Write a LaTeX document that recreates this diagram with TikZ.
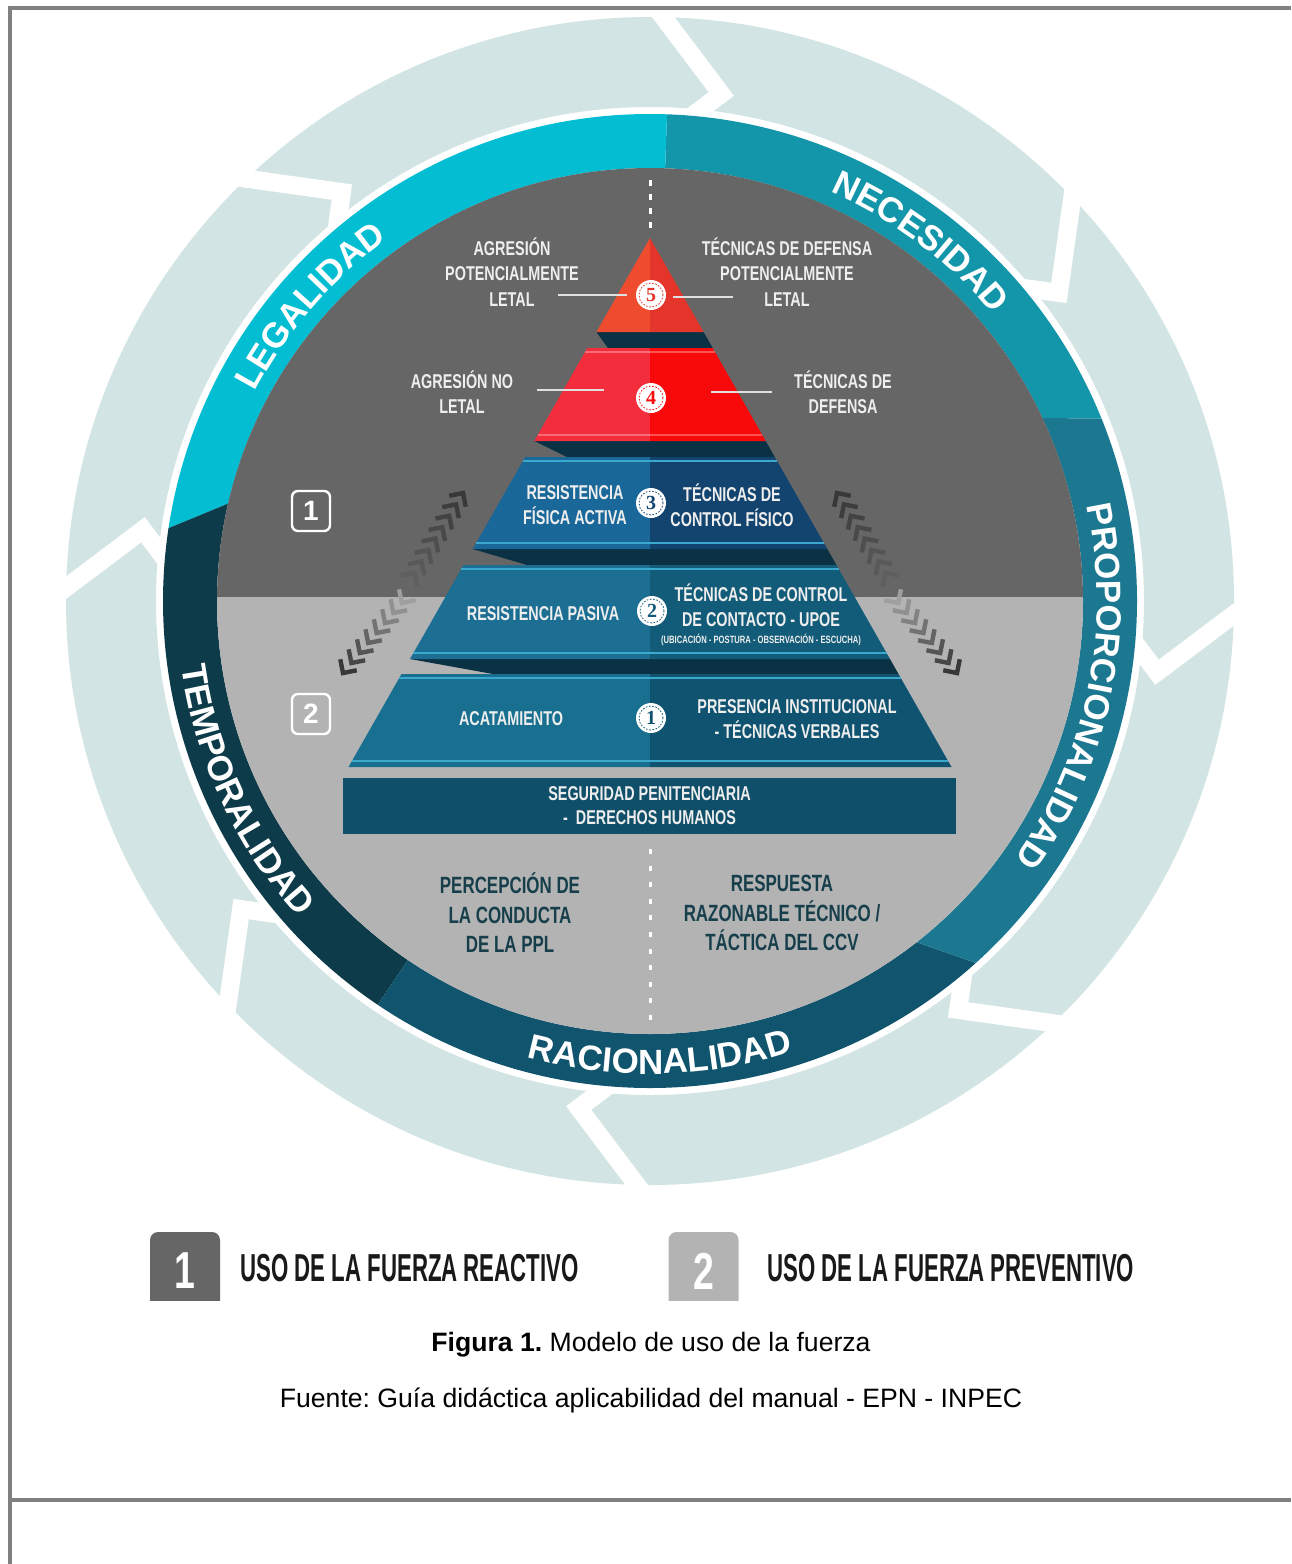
\documentclass[tikz,border=0pt]{standalone}
\usepackage{fontspec}
\setmainfont{Liberation Sans}
\newfontfamily\cnd[FakeStretch=0.72]{Liberation Sans}
\newfontfamily\cndl[FakeStretch=0.57]{Liberation Sans}
\newfontfamily\serf{Liberation Serif}
\usetikzlibrary{calc,decorations.text}
\frenchspacing
\definecolor{framec}{HTML}{808080}
\definecolor{lightring}{HTML}{D3E4E4}
\definecolor{legal}{HTML}{03BED3}
\definecolor{neces}{HTML}{1496AA}
\definecolor{propor}{HTML}{1B7890}
\definecolor{racio}{HTML}{10546E}
\definecolor{tempo}{HTML}{0E3B49}
\definecolor{darkg}{HTML}{666666}
\definecolor{lightg}{HTML}{B3B3B3}
\definecolor{tfivel}{HTML}{EF4B2E}
\definecolor{tfiver}{HTML}{E3352A}
\definecolor{tfourl}{HTML}{F42D3D}
\definecolor{tfourr}{HTML}{F80A0B}
\definecolor{tthreel}{HTML}{1A6899}
\definecolor{tthreer}{HTML}{13446F}
\definecolor{ttwol}{HTML}{1C6E92}
\definecolor{ttwor}{HTML}{125C79}
\definecolor{tonel}{HTML}{186F8F}
\definecolor{toner}{HTML}{0F5371}
\definecolor{basec}{HTML}{0F4F69}
\definecolor{shad}{HTML}{0B3145}
\definecolor{stripe}{HTML}{3BA9CD}
\definecolor{bottxt}{HTML}{173F4B}
\definecolor{chevd}{HTML}{383838}
\definecolor{lblc}{HTML}{EEEEEE}
\newcommand\ringfont{\bfseries\fontsize{17.5}{20}\selectfont}
\tikzset{
  lbl/.style={text=lblc, font=\cnd\bfseries\fontsize{10}{12.75}\selectfont, align=center, inner sep=0pt},
  bottlbl/.style={text=bottxt, font=\cnd\bfseries\fontsize{11.75}{14.75}\selectfont, align=center, inner sep=0pt},
  badge/.style={circle, fill=white, minimum size=15pt, inner sep=0pt, font=\serf\bfseries\fontsize{10}{10}\selectfont},
  chv/.style={line width=2.2pt, line join=miter},
  ringtext/.style={decorate, decoration={text along path, text align=center, text color=white, text={|\ringfont|#1}}},
  stripeline/.style={stripe, line width=1.1pt},
  conn/.style={white!88!black, line width=1pt},
  diskbadge/.style={draw=white, line width=1.2pt, rounded corners=3pt, minimum width=19pt, minimum height=20pt, inner sep=0pt, text=white, font=\bfseries\fontsize{14}{14}\selectfont},
  legbox/.style={rounded corners=4pt, minimum width=35pt, minimum height=39pt, inner sep=0pt, text=white, font=\cnd\bfseries\fontsize{26}{26}\selectfont},
  legtext/.style={anchor=west, inner sep=0pt, font=\cndl\bfseries\fontsize{19.5}{20}\selectfont, text=black!90}
}
\begin{document}
\begin{tikzpicture}[x=0.5pt,y=0.5pt]
\useasboundingbox (0,0) rectangle (1291,-1564);
\coordinate (C) at (650,-601);

% light outer ring with chevron cuts
\fill[lightring, even odd rule] (C) circle[radius=584] (C) circle[radius=494];
\foreach \a in {37,82,...,352}
  \draw[white, line width=9pt, line join=miter] ($(C)+(\a:512)+({\a+45}:140)$) -- ($(C)+(\a:512)$) -- ($(C)+(\a:512)+({\a+135}:40)$);

% coloured ring
\fill[neces] ($(C)+(22:487)$) arc[start angle=22, end angle=88, radius=487] -- ($(C)+(88:433)$) arc[start angle=88, end angle=25, radius=433] -- cycle;
\fill[legal] ($(C)+(88:487)$) arc[start angle=88, end angle=171.4, radius=487] -- ($(C)+(167:433)$) arc[start angle=167, end angle=88, radius=433] -- cycle;
\fill[tempo] ($(C)+(171.4:487)$) arc[start angle=171.4, end angle=236, radius=487] -- ($(C)+(236:433)$) arc[start angle=236, end angle=167, radius=433] -- cycle;
\fill[racio] ($(C)+(236:487)$) arc[start angle=236, end angle=312, radius=487] -- ($(C)+(308:433)$) arc[start angle=308, end angle=236, radius=433] -- cycle;
\fill[propor] ($(C)+(312:487)$) arc[start angle=312, end angle=382, radius=487] -- ($(C)+(385:433)$) arc[start angle=385, end angle=308, radius=433] -- cycle;

% ring texts
\path[ringtext=LEGALIDAD] ($(C)+(169:447)$) arc[start angle=169, end angle=109, radius=447];
\path[ringtext=NECESIDAD] ($(C)+(83:447)$) arc[start angle=83, end angle=23, radius=447];
\path[ringtext=PROPORCIONALIDAD] ($(C)+(32:447)$) arc[start angle=32, end angle=-55, radius=447];
\path[ringtext=RACIONALIDAD] ($(C)+(236:473)$) arc[start angle=236, end angle=306.6, radius=473];
\path[ringtext=TEMPORALIDAD] ($(C)+(170:473)$) arc[start angle=170, end angle=240, radius=473];

% inner disk
\begin{scope}
\clip (C) circle[radius=433];
\fill[darkg] (200,-150) rectangle (1100,-597);
\fill[lightg] (200,-597) rectangle (1100,-1050);
\end{scope}

% dashed axis
\draw[white, line width=1.5pt, dash pattern=on 3pt off 4pt] (650,-180) -- (650,-230);
\draw[white, line width=1.5pt, dash pattern=on 2.5pt off 5.8pt] (650,-849) -- (650,-1024);

% chevron stacks
\foreach \i in {0,...,7}{
  \pgfmathsetmacro\px{463-6.9*\i}
  \pgfmathsetmacro\py{-493-11.4*\i}
  \pgfmathtruncatemacro\f{100-12*\i}
  \draw[chv, chevd!\f!darkg] ([shift={(191.3:14)}]\px,\py) -- (\px,\py) -- ++(281.3:14);
  \pgfmathsetmacro\qx{837+6.9*\i}
  \draw[chv, chevd!\f!darkg] ([shift={(258.7:14)}]\qx,\py) -- (\qx,\py) -- ++(348.7:14);
  \pgfmathsetmacro\rx{343+8.4*\i}
  \pgfmathsetmacro\ry{-673+10*\i}
  \draw[chv, chevd!\f!lightg] ([shift={(11.3:14)}]\rx,\ry) -- (\rx,\ry) -- ++(101.3:14);
  \pgfmathsetmacro\sx{957-8.4*\i}
  \draw[chv, chevd!\f!lightg] ([shift={(78.7:14)}]\sx,\ry) -- (\sx,\ry) -- ++(168.7:14);
}

% shadows between tiers
\fill[shad] (596.4,-332) -- (703.6,-332) -- (712.7,-348) -- (608,-348) -- cycle;
\fill[shad] (534.3,-441) -- (765.7,-441) -- (774.8,-457) -- (567,-457) -- cycle;
\fill[shad] (472.7,-549) -- (827.3,-549) -- (836.4,-565) -- (527,-565) -- cycle;
\fill[shad] (410,-659) -- (890,-659) -- (898.5,-674) -- (493,-674) -- cycle;

% tier 5
\fill[tfivel] (650,-238) -- (596.4,-332) -- (650,-332) -- cycle;
\fill[tfiver] (650,-238) -- (703.6,-332) -- (650,-332) -- cycle;
% tier 4
\fill[tfourl] (587.3,-348) -- (650,-348) -- (650,-441) -- (534.3,-441) -- cycle;
\fill[tfourr] (650,-348) -- (712.7,-348) -- (765.7,-441) -- (650,-441) -- cycle;
\draw[white, opacity=0.3, line width=1.1pt] (585,-352) -- (715,-352) (537.7,-435) -- (762.3,-435);
% tier 3
\fill[tthreel] (525.2,-457) -- (650,-457) -- (650,-549) -- (472.7,-549) -- cycle;
\fill[tthreer] (650,-457) -- (774.8,-457) -- (827.3,-549) -- (650,-549) -- cycle;
\draw[stripeline] (522.9,-461) -- (777.1,-461) (476.1,-543) -- (823.9,-543);
% tier 2
\fill[ttwol] (463.6,-565) -- (650,-565) -- (650,-659) -- (410,-659) -- cycle;
\fill[ttwor] (650,-565) -- (836.4,-565) -- (890,-659) -- (650,-659) -- cycle;
\draw[stripeline] (461.3,-569) -- (838.7,-569) (413.4,-653) -- (886.6,-653);
% tier 1
\fill[tonel] (401.5,-674) -- (650,-674) -- (650,-767) -- (348.5,-767) -- cycle;
\fill[toner] (650,-674) -- (898.5,-674) -- (951.5,-767) -- (650,-767) -- cycle;
\draw[stripeline] (399.2,-678) -- (900.8,-678) (351.9,-761) -- (948.1,-761);
% base
\node[fill=basec, minimum width=306.5pt, minimum height=28pt, inner sep=0pt, text=lblc, font=\cnd\bfseries\fontsize{10}{12}\selectfont, align=center] (base) at (649.5,-806) {SEGURIDAD PENITENCIARIA\\-\ \ DERECHOS HUMANOS};

% badges
\node[badge, text=tfiver] (n5) at (651,-295) {5};
\node[badge, text=tfourr] (n4) at (651,-398) {4};
\node[badge, text=tthreer] (n3) at (651,-503) {3};
\node[badge, text=ttwor] (n2) at (652,-611) {2};
\node[badge, text=toner] (n1) at (651,-718) {1};
\draw[tfiver, line width=0.4pt, dash pattern=on 0.8pt off 0.8pt] (n5.center) circle[radius=12];
\draw[tfourr, line width=0.4pt, dash pattern=on 0.8pt off 0.8pt] (n4.center) circle[radius=12];
\draw[tthreer, line width=0.4pt, dash pattern=on 0.8pt off 0.8pt] (n3.center) circle[radius=12];
\draw[ttwor, line width=0.4pt, dash pattern=on 0.8pt off 0.8pt] (n2.center) circle[radius=12];
\draw[toner, line width=0.4pt, dash pattern=on 0.8pt off 0.8pt] (n1.center) circle[radius=12];

% labels
\node[lbl] (l5) at (512,-272) {AGRESIÓN\\POTENCIALMENTE\\LETAL};
\node[lbl] (r5) at (787,-272) {TÉCNICAS DE DEFENSA\\POTENCIALMENTE\\LETAL};
\node[lbl] (l4) at (462,-392) {AGRESIÓN NO\\LETAL};
\node[lbl] (r4) at (843,-392) {TÉCNICAS DE\\DEFENSA};
\node[lbl] (l3) at (575,-505) {RESISTENCIA\\FÍSICA ACTIVA};
\node[lbl] (r3) at (732,-505) {TÉCNICAS DE\\CONTROL FÍSICO};
\node[lbl] (l2) at (543,-614) {RESISTENCIA PASIVA};
\node[lbl] (r2) at (761,-605) {TÉCNICAS DE CONTROL\\DE CONTACTO - UPOE};
\node[lbl, font=\cnd\bfseries\fontsize{5.3}{6}\selectfont] (r2s) at (761,-640) {(UBICACIÓN - POSTURA - OBSERVACIÓN - ESCUCHA)};
\node[lbl] (l1) at (511,-719) {ACATAMIENTO};
\node[lbl] (r1) at (797,-719) {PRESENCIA INSTITUCIONAL\\- TÉCNICAS VERBALES};

% connector lines
\draw[conn] ([xshift=-4.5pt]n5.west) -- ++(-69,0);
\draw[conn] ([xshift=3.5pt, yshift=-1pt]n5.east) -- ++(60,0);
\draw[conn] ([xshift=-16pt, yshift=4pt]n4.west) -- ++(-67,0);
\draw[conn] ([xshift=22.5pt, yshift=3pt]n4.east) -- ++(61,0);

% bottom texts
\node[bottlbl] (perc) at (510,-913) {PERCEPCIÓN DE\\LA CONDUCTA\\DE LA PPL};
\node[bottlbl] (resp) at (782,-913) {RESPUESTA\\RAZONABLE TÉCNICO /\\TÁCTICA DEL CCV};

% disk badges
\node[diskbadge] (b1) at (311,-511) {1};
\node[diskbadge] (b2) at (311,-714) {2};

% legend
\begin{scope}
\clip (100,-1220) rectangle (800,-1300);
\node[legbox, fill=darkg] (k1) at (185,-1271) {1};
\node[legbox, fill=lightg] (k2) at (703.5,-1271) {2};
\end{scope}
\node[legtext] (k1t) at (240,-1268) {USO DE LA FUERZA REACTIVO};
\node[legtext] (k2t) at (767,-1268) {USO DE LA FUERZA PREVENTIVO};

% caption
\node[font=\fontsize{13.3}{16}\selectfont, inner sep=0pt] (cap) at (651,-1345) {\textbf{Figura 1.} Modelo de uso de la fuerza};
\node[font=\fontsize{13.3}{16}\selectfont, inner sep=0pt] (src) at (651,-1400) {Fuente: Guía didáctica aplicabilidad del manual - EPN - INPEC};

% frame
\draw[framec, line width=2pt] (1291,-8) -- (10,-8) -- (10,-1564);
\draw[framec, line width=2pt] (10,-1500) -- (1291,-1500);
\end{tikzpicture}
\end{document}
